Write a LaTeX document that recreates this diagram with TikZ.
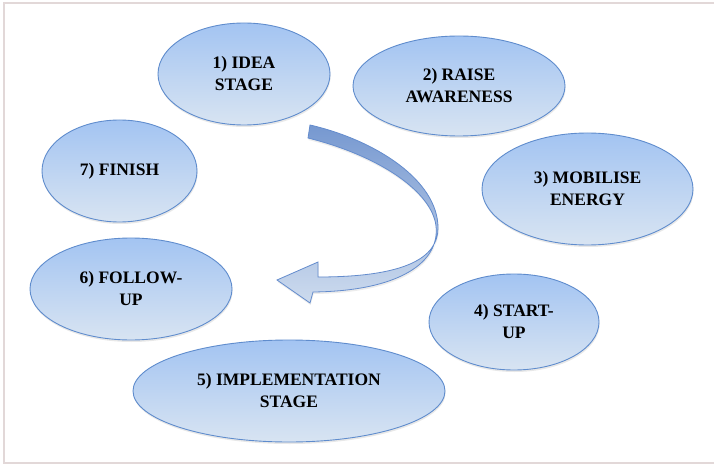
\documentclass[tikz,border=0pt]{standalone}
\usepackage{fontspec}
\setmainfont{Liberation Serif}
\usetikzlibrary{shapes.geometric,shadows}
\definecolor{ellborder}{RGB}{95,140,205}
\definecolor{elltop}{RGB}{163,196,242}
\definecolor{ellbot}{RGB}{216,228,242}
\definecolor{framecol}{RGB}{226,216,216}
\definecolor{arrtop}{RGB}{118,152,208}
\definecolor{arrbot}{RGB}{205,219,238}
\definecolor{arrborder}{RGB}{100,140,205}
\tikzset{
  stage/.style={ellipse, draw=ellborder, line width=0.9pt, top color=elltop, bottom color=ellbot,
    inner sep=0pt, align=center, font=\fontsize{17.5}{22}\selectfont\bfseries,
    drop shadow={shadow xshift=0.6pt, shadow yshift=-2pt, opacity=0.18}},
}
\begin{document}
\begin{tikzpicture}[x=1pt,y=-1pt]
\useasboundingbox (0,0) rectangle (714,465);
\fill[white] (0,0) rectangle (714,465);
% frame
\draw[framecol, line width=2pt] (716,3.5) -- (4,3.5) -- (4,463) -- (716,463);
% ellipses
\node[stage, minimum width=172pt, minimum height=102pt] (s1) at (244,74) {1) IDEA\\STAGE};
\node[stage, minimum width=212pt, minimum height=100pt] (s2) at (459,86) {2) RAISE\\AWARENESS};
\node[stage, minimum width=211pt, minimum height=112pt] (s3) at (587.5,189) {3) MOBILISE\\ENERGY};
\node[stage, minimum width=170pt, minimum height=96pt] (s4) at (514,322) {4) START-\\UP};
\node[stage, minimum width=312pt, minimum height=102pt] (s5) at (289,391) {5) IMPLEMENTATION\\STAGE};
\node[stage, minimum width=202pt, minimum height=102pt] (s6) at (131,289) {6) FOLLOW-\\UP};
\node[stage, minimum width=155pt, minimum height=102pt] (s7) at (119.5,171) {7) FINISH};
% curved arrow
\coordinate (tailtop) at (310,125);
\coordinate (tailbot) at (308,138);
\coordinate (twist) at (438,228);
\coordinate (shafttop) at (318,277);
\coordinate (barbtop) at (318,262);
\coordinate (tip) at (277,280);
\coordinate (barbbot) at (310,303);
\coordinate (shaftbot) at (313,292);
\path[draw=arrborder, line width=0.8pt, top color=arrtop, bottom color=arrbot,
      drop shadow={shadow xshift=0.6pt, shadow yshift=-2pt, opacity=0.15}]
  (tailtop) .. controls (375,140) and (438,180) .. (twist)
  .. controls (438,258) and (405,277) .. (shafttop)
  -- (barbtop) -- (tip) -- (barbbot) -- (shaftbot)
  .. controls (400,291) and (440,262) .. (436,226)
  .. controls (432,192) and (380,156) .. (tailbot) -- cycle;
\end{tikzpicture}
\end{document}
